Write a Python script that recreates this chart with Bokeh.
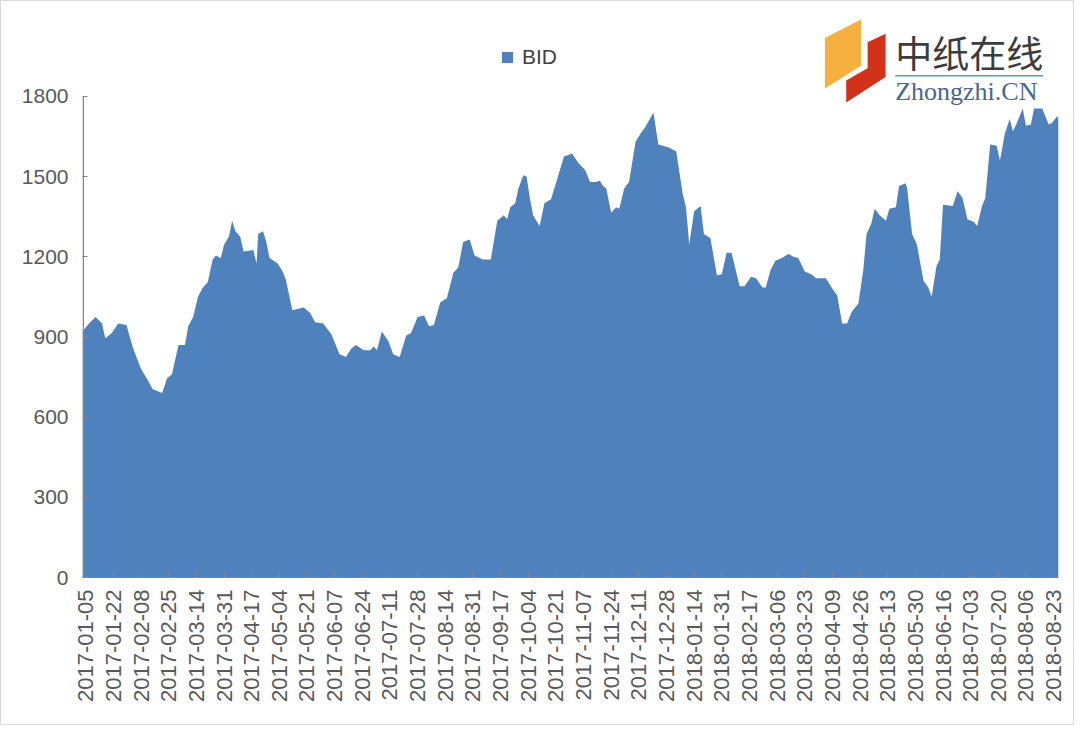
import pandas as pd
from math import pi
from bokeh.plotting import figure
from bokeh.models import (FixedTicker, DatetimeTickFormatter, Legend, LegendItem,
                          Label, PolyAnnotation, BoxAnnotation, Range1d)
from bokeh.embed import file_html
from bokeh.resources import INLINE

series_name = "BID"

dates = [
    "2017-01-03", "2017-01-07", "2017-01-11", "2017-01-15", "2017-01-17", "2017-01-21",
    "2017-01-25", "2017-01-30", "2017-02-03", "2017-02-08", "2017-02-12", "2017-02-15",
    "2017-02-21", "2017-02-24", "2017-02-27", "2017-03-03", "2017-03-07", "2017-03-09",
    "2017-03-12", "2017-03-15", "2017-03-18", "2017-03-21", "2017-03-24", "2017-03-26",
    "2017-03-29", "2017-03-31", "2017-04-03", "2017-04-05", "2017-04-07", "2017-04-10",
    "2017-04-12", "2017-04-18", "2017-04-20", "2017-04-21", "2017-04-24", "2017-04-26",
    "2017-04-28", "2017-05-03", "2017-05-06", "2017-05-08", "2017-05-12", "2017-05-19",
    "2017-05-23", "2017-05-26", "2017-05-31", "2017-06-05", "2017-06-10", "2017-06-14",
    "2017-06-17", "2017-06-20", "2017-06-25", "2017-06-29", "2017-07-01", "2017-07-03",
    "2017-07-06", "2017-07-10", "2017-07-13", "2017-07-17", "2017-07-21", "2017-07-24",
    "2017-07-28", "2017-08-01", "2017-08-04", "2017-08-07", "2017-08-11", "2017-08-15",
    "2017-08-19", "2017-08-22", "2017-08-25", "2017-08-29", "2017-09-01", "2017-09-06",
    "2017-09-11", "2017-09-15", "2017-09-19", "2017-09-21", "2017-09-23", "2017-09-26",
    "2017-09-28", "2017-10-01", "2017-10-03", "2017-10-05", "2017-10-07", "2017-10-11",
    "2017-10-14", "2017-10-18", "2017-10-22", "2017-10-26", "2017-10-31", "2017-11-04",
    "2017-11-08", "2017-11-11", "2017-11-15", "2017-11-17", "2017-11-19", "2017-11-21",
    "2017-11-24", "2017-11-27", "2017-11-29", "2017-12-02", "2017-12-05", "2017-12-09",
    "2017-12-12", "2017-12-15", "2017-12-20", "2017-12-23", "2017-12-29", "2018-01-03",
    "2018-01-07", "2018-01-09", "2018-01-11", "2018-01-14", "2018-01-18", "2018-01-20",
    "2018-01-24", "2018-01-28", "2018-01-31", "2018-02-03", "2018-02-06", "2018-02-11",
    "2018-02-14", "2018-02-18", "2018-02-21", "2018-02-25", "2018-02-27", "2018-03-02",
    "2018-03-05", "2018-03-09", "2018-03-13", "2018-03-16", "2018-03-19", "2018-03-23",
    "2018-03-27", "2018-03-30", "2018-04-05", "2018-04-09", "2018-04-12", "2018-04-15",
    "2018-04-18", "2018-04-21", "2018-04-25", "2018-04-28", "2018-04-30", "2018-05-03",
    "2018-05-05", "2018-05-08", "2018-05-12", "2018-05-14", "2018-05-18", "2018-05-20",
    "2018-05-24", "2018-05-25", "2018-05-28", "2018-05-31", "2018-06-04", "2018-06-07",
    "2018-06-09", "2018-06-12", "2018-06-14", "2018-06-16", "2018-06-22", "2018-06-25",
    "2018-06-28", "2018-07-01", "2018-07-05", "2018-07-07", "2018-07-10", "2018-07-12",
    "2018-07-15", "2018-07-19", "2018-07-21", "2018-07-24", "2018-07-27", "2018-07-29",
    "2018-07-31", "2018-08-04", "2018-08-06", "2018-08-09", "2018-08-11", "2018-08-16",
    "2018-08-20", "2018-08-22", "2018-08-25", "2018-08-26",
]

bid = [
    920, 950, 975, 950, 895, 915,
    950, 945, 860, 780, 740, 705,
    690, 745, 760, 870, 870, 940,
    975, 1050, 1085, 1105, 1190, 1205,
    1195, 1245, 1275, 1335, 1295, 1275,
    1220, 1225, 1175, 1285, 1295, 1255,
    1195, 1175, 1145, 1115, 1000, 1010,
    990, 955, 950, 910, 835, 825,
    855, 870, 850, 850, 865, 850,
    920, 885, 835, 825, 905, 915,
    975, 980, 940, 945, 1030, 1045,
    1140, 1160, 1255, 1265, 1205, 1190,
    1190, 1335, 1355, 1340, 1385, 1400,
    1455, 1505, 1500, 1420, 1355, 1315,
    1400, 1415, 1495, 1575, 1585, 1550,
    1525, 1480, 1480, 1485, 1465, 1455,
    1365, 1385, 1380, 1455, 1480, 1630,
    1660, 1685, 1740, 1620, 1610, 1595,
    1435, 1385, 1245, 1370, 1390, 1285,
    1270, 1130, 1135, 1215, 1215, 1090,
    1090, 1125, 1120, 1085, 1085, 1150,
    1185, 1195, 1210, 1200, 1195, 1145,
    1135, 1120, 1120, 1080, 1055, 950,
    950, 995, 1025, 1150, 1285, 1325,
    1380, 1355, 1335, 1380, 1385, 1465,
    1475, 1455, 1285, 1245, 1110, 1085,
    1050, 1165, 1190, 1395, 1390, 1445,
    1420, 1340, 1330, 1315, 1390, 1420,
    1620, 1615, 1560, 1660, 1715, 1670,
    1695, 1755, 1690, 1695, 1755, 1755,
    1695, 1700, 1725, 1720,
]

tick_labels = [
    "2017-01-05", "2017-01-22", "2017-02-08", "2017-02-25", "2017-03-14", "2017-03-31",
    "2017-04-17", "2017-05-04", "2017-05-21", "2017-06-07", "2017-06-24", "2017-07-11",
    "2017-07-28", "2017-08-14", "2017-08-31", "2017-09-17", "2017-10-04", "2017-10-21",
    "2017-11-07", "2017-11-24", "2017-12-11", "2017-12-28", "2018-01-14", "2018-01-31",
    "2018-02-17", "2018-03-06", "2018-03-23", "2018-04-09", "2018-04-26", "2018-05-13",
    "2018-05-30", "2018-06-16", "2018-07-03", "2018-07-20", "2018-08-06", "2018-08-23",
]

y_ticks = [0, 300, 600, 900, 1200, 1500, 1800]

x = pd.to_datetime(dates)
tick_ms = [int(t.value // 10**6) for t in pd.to_datetime(tick_labels)]

FONT = "Liberation Sans"
AXIS_GRAY = "#868686"
TEXT_GRAY = "#595959"
BLUE = "#4f81bd"

# the frame reaches the top of the figure so the legend and watermark are not clipped;
# the y axis itself only spans 0..1800
Y_TOP = 2155

p = figure(width=1074, height=725, x_axis_type="datetime",
           output_backend="svg", toolbar_location=None,
           x_range=Range1d(x[0], x[-1]), y_range=Range1d(0, Y_TOP),
           min_border_left=81, min_border_right=17,
           min_border_top=0, min_border_bottom=149,
           styles={"border": "1px solid #d9d9d9"})

r = p.varea(x=x, y1=0, y2=bid, fill_color=BLUE)

p.grid.visible = False
p.outline_line_color = None
p.background_fill_color = "white"
p.border_fill_color = "white"

# y axis (line drawn only from 0 to 1800)
ya = p.yaxis[0]
ya.ticker = FixedTicker(ticks=y_ticks)
ya.axis_line_color = None
ya.major_tick_line_color = AXIS_GRAY
ya.major_tick_in = 5
ya.major_tick_out = 0
ya.minor_tick_line_color = None
ya.major_label_text_font = FONT
ya.major_label_text_font_size = "21px"
ya.major_label_text_color = TEXT_GRAY
ya.major_label_standoff = 14
p.add_layout(BoxAnnotation(left=0, right=1.5, left_units="screen", right_units="screen",
                           bottom=0, top=max(y_ticks), fill_color=AXIS_GRAY, fill_alpha=1,
                           line_color=None))

# x axis
xa = p.xaxis[0]
xa.ticker = FixedTicker(ticks=tick_ms)
fmt = "%Y-%m-%d"
xa.formatter = DatetimeTickFormatter(days=fmt, months=fmt, years=fmt, hours=fmt,
                                     hourmin=fmt, minutes=fmt, minsec=fmt,
                                     seconds=fmt, milliseconds=fmt, microseconds=fmt)
xa.axis_line_color = AXIS_GRAY
xa.major_tick_line_color = AXIS_GRAY
xa.major_tick_in = 5
xa.major_tick_out = 0
xa.minor_tick_line_color = None
xa.major_label_orientation = pi / 2
xa.major_label_text_font = FONT
xa.major_label_text_font_size = "22px"
xa.major_label_text_color = TEXT_GRAY
xa.major_label_standoff = 12

# legend above the plotted data
legend = Legend(items=[LegendItem(label=series_name, renderers=[r])],
                location=(418, 508), orientation="horizontal",
                glyph_width=14, glyph_height=14, label_height=14, label_standoff=8,
                padding=0, margin=0, spacing=0,
                border_line_color=None, background_fill_alpha=0,
                label_text_font=FONT, label_text_font_size="21px",
                label_text_color="#404040")
p.add_layout(legend, "center")

# watermark logo (decoration, screen units relative to the plot frame)
p.add_layout(PolyAnnotation(xs=[742.4, 778.5, 778.5, 742.4], ys=[539.5, 558.1, 511.7, 488.9],
                            xs_units="screen", ys_units="screen",
                            fill_color="#f5b040", fill_alpha=1, line_color=None))
p.add_layout(PolyAnnotation(xs=[785.1, 803.1, 803.1, 763.7, 763.7, 785.1],
                            ys=[535.2, 543.7, 500.4, 474.9, 497.1, 509.2],
                            xs_units="screen", ys_units="screen",
                            fill_color="#d3321a", fill_alpha=1, line_color=None))
p.add_layout(PolyAnnotation(xs=[812.7, 960.5, 960.5, 812.7], ys=[501, 501, 502.5, 502.5],
                            xs_units="screen", ys_units="screen",
                            fill_color="#6f8fc0", fill_alpha=1, line_color=None))
p.add_layout(Label(x=812.7, y=525.5, x_units="screen", y_units="screen", text="中纸在线",
                   text_font="Noto Sans CJK SC", text_font_size="37px",
                   text_color="#3c3c3c", text_baseline="middle"))
p.add_layout(Label(x=812.7, y=486, x_units="screen", y_units="screen", text="Zhongzhi.CN",
                   text_font="Liberation Serif", text_font_size="26px",
                   text_color="#4a6592", text_baseline="alphabetic"))

open("out.html", "w").write(file_html(p, INLINE))
